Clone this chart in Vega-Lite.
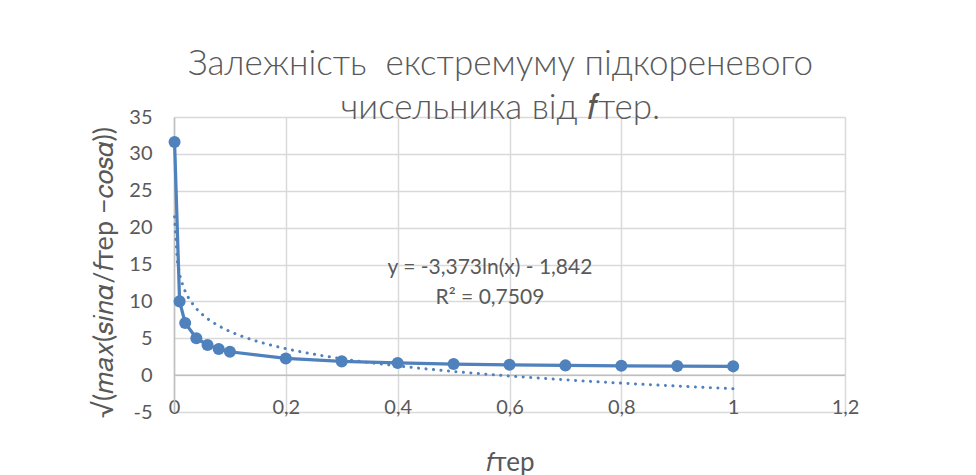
{
  "$schema": "https://vega.github.io/schema/vega-lite/v6.json",
  "width": 671,
  "height": 295,
  "autosize": "none",
  "padding": {"left": 174, "top": 117, "right": 131, "bottom": 63},
  "background": "white",
  "title": {
    "text": ["Залежність\u00a0 екстремуму підкореневого", "чисельника від 𝑓тер."],
    "font": "Lato",
    "fontWeight": 300,
    "fontSize": 35,
    "color": "#595959",
    "anchor": "middle",
    "dx": -9,
    "offset": -19,
    "lineHeight": 44
  },
  "config": {
    "view": {"stroke": null},
    "font": "Lato",
    "axis": {
      "labelFont": "Lato",
      "labelFontSize": 20,
      "labelColor": "#595959",
      "titleFont": "Lato",
      "titleFontWeight": "normal",
      "titleColor": "#595959",
      "grid": true,
      "gridWidth": 1.5,
      "gridColor": "#d9d9d9",
      "gridOpacity": 1,
      "ticks": false,
      "tickSize": 0,
      "labelOverlap": false,
      "labelFlush": false
    }
  },
  "data": {
    "values": [
      {"x": 0.001, "y": 31.62},
      {"x": 0.01, "y": 10.0},
      {"x": 0.02, "y": 7.07},
      {"x": 0.04, "y": 5.0},
      {"x": 0.06, "y": 4.086},
      {"x": 0.08, "y": 3.54},
      {"x": 0.1, "y": 3.17},
      {"x": 0.2, "y": 2.258},
      {"x": 0.3, "y": 1.865},
      {"x": 0.4, "y": 1.65},
      {"x": 0.5, "y": 1.495},
      {"x": 0.6, "y": 1.394},
      {"x": 0.7, "y": 1.321},
      {"x": 0.8, "y": 1.265},
      {"x": 0.9, "y": 1.223},
      {"x": 1.0, "y": 1.189}
    ]
  },
  "layer": [
    {
      "mark": {
        "type": "line",
        "color": "#4F81BD",
        "strokeWidth": 3.25,
        "point": {"filled": true, "size": 145, "color": "#4F81BD", "opacity": 1}
      },
      "encoding": {
        "x": {
          "field": "x",
          "type": "quantitative",
          "scale": {"domain": [0, 1.2], "nice": false, "zero": false},
          "axis": {
            "title": "𝑓тер",
            "titleFontSize": 26,
            "grid": true,
            "values": [0, 0.2, 0.4, 0.6, 0.8, 1, 1.2],
            "tickCount": 20,
            "format": "~g",
            "labelExpr": "replace(datum.label, '.', ',')",
            "domain": false,
            "labelBaseline": "middle",
            "labelPadding": -5,
            "titleBaseline": "alphabetic",
            "titleY": 58
          }
        },
        "y": {
          "field": "y",
          "type": "quantitative",
          "scale": {"domain": [-5, 35], "nice": false, "zero": false},
          "axis": {
            "title": "√(𝑚𝑎𝑥(𝑠𝑖𝑛𝛼/𝑓тер −𝑐𝑜𝑠𝛼))",
            "titleFontSize": 27,
            "grid": true,
            "values": [-5, 0, 5, 10, 15, 20, 25, 30, 35],
            "tickCount": 20,
            "format": "d",
            "labelExpr": "replace(datum.label, '−', '-')",
            "domain": true,
            "domainColor": "#bfbfbf",
            "domainWidth": 1.5,
            "labelPadding": 22,
            "labelBaseline": "middle",
            "titleAngle": -90,
            "titleBaseline": "middle",
            "titleAlign": "center",
            "titleX": -70,
            "titleY": 155
          }
        }
      }
    },
    {
      "data": {"values": [{}]},
      "mark": {"type": "rule", "color": "#bfbfbf", "strokeWidth": 1.5},
      "encoding": {"y": {"datum": 0}}
    },
    {
      "transform": [{"regression": "y", "on": "x", "method": "log"}],
      "mark": {
        "type": "line",
        "color": "#4F81BD",
        "strokeWidth": 3,
        "strokeDash": [0.1, 7.4],
        "strokeCap": "round"
      },
      "encoding": {
        "x": {"field": "x", "type": "quantitative"},
        "y": {"field": "y", "type": "quantitative"}
      }
    },
    {
      "data": {"values": [{}]},
      "mark": {
        "type": "text",
        "text": ["y = -3,373ln(x) - 1,842", "R² = 0,7509"],
        "font": "Lato",
        "fontSize": 21,
        "fontWeight": "normal",
        "color": "#595959",
        "align": "center",
        "baseline": "middle",
        "lineHeight": 30
      },
      "encoding": {
        "x": {"datum": 0.565},
        "y": {"datum": 14.55}
      }
    }
  ]
}
